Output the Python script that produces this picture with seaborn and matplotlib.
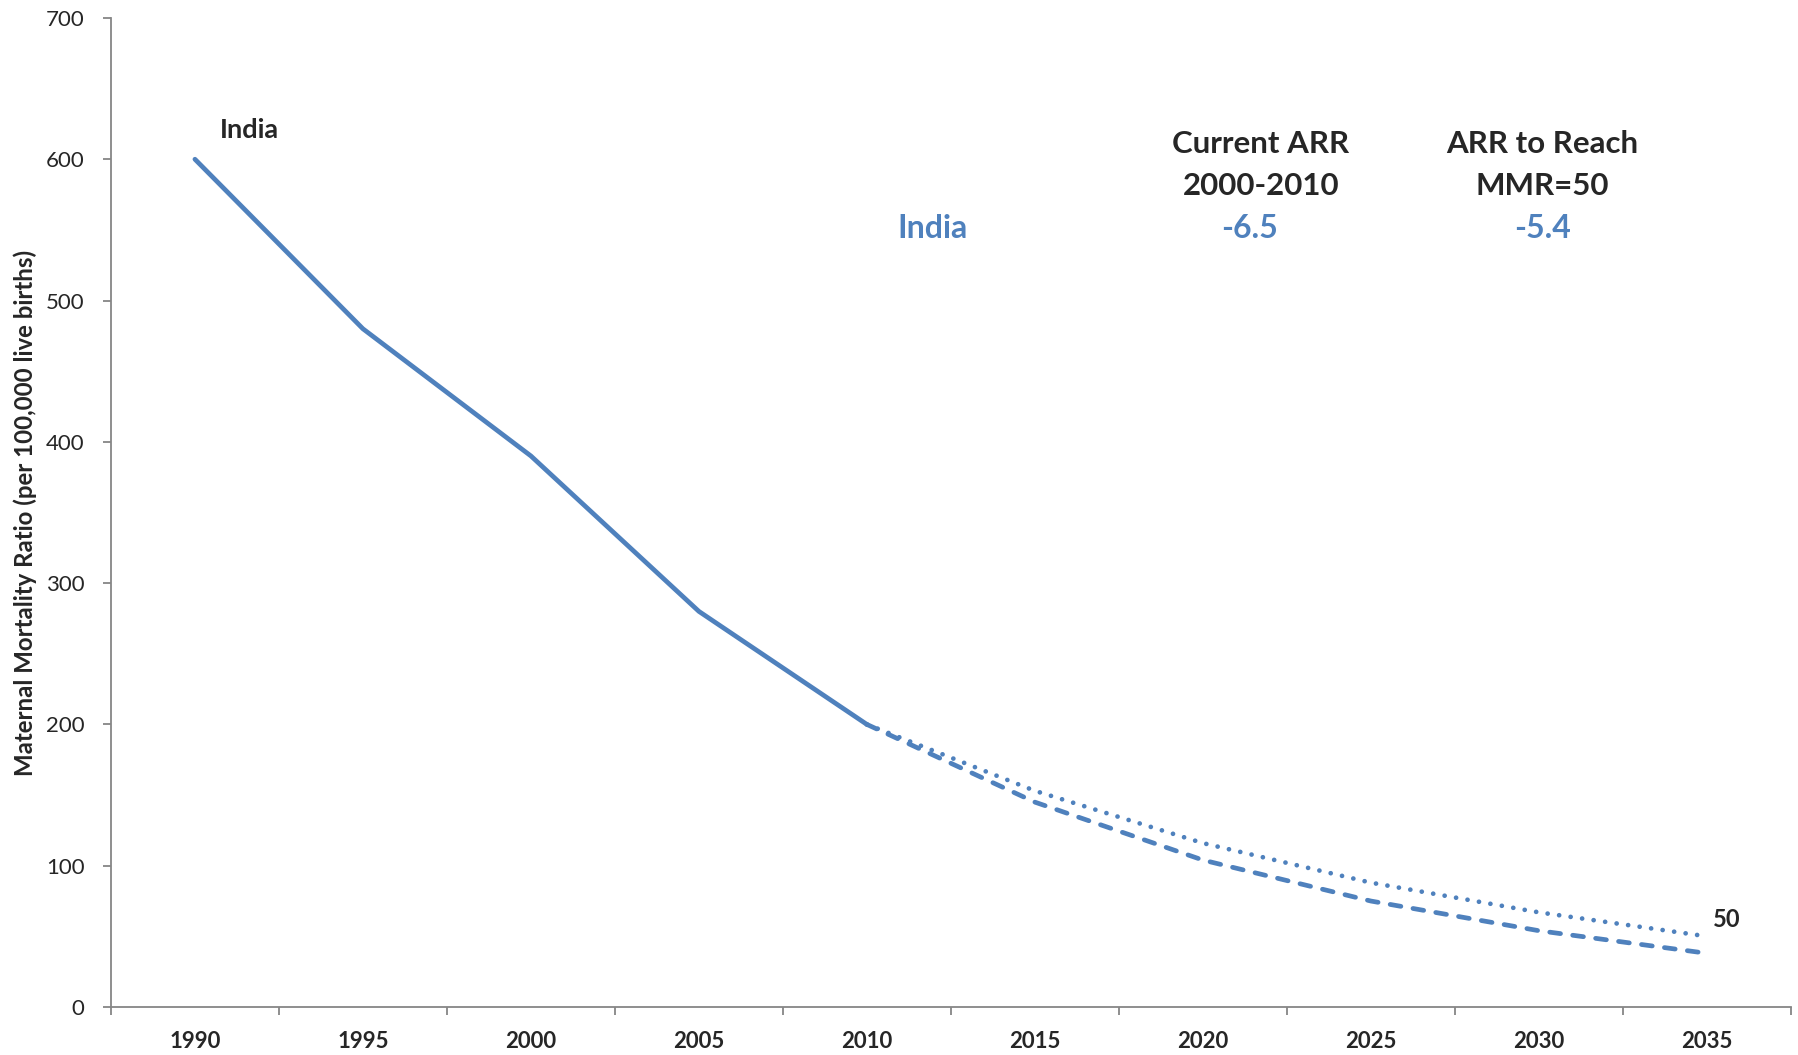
import matplotlib
matplotlib.use("Agg")
import matplotlib.pyplot as plt
import seaborn as sns
import pandas as pd
import numpy as np

# Data
years = ["1990", "1995", "2000", "2005", "2010", "2015", "2020", "2025", "2030", "2035"]
observed_years = ["1990", "1995", "2000", "2005", "2010"]
observed_mmr = [600, 480, 390, 280, 200]
proj_years = ["2010", "2015", "2020", "2025", "2030", "2035"]
current_arr_mmr = [200, 145, 104, 75, 54, 38]
target_arr_mmr = [200, 153, 116, 88, 67, 50]
yticks = [0, 100, 200, 300, 400, 500, 600, 700]

BLUE = "#4F81BD"
GREY = "#868686"

sns.set_theme(style="white")
plt.rcParams["font.family"] = ["Lato", "DejaVu Sans"]

fig = plt.figure(figsize=(17.98, 10.55), dpi=100)
ax = fig.add_axes([0.0617, 0.0455, 0.9343, 0.9375])

pos = {y: i for i, y in enumerate(years)}
obs = pd.DataFrame({"x": [pos[y] for y in observed_years], "mmr": observed_mmr})
cur = pd.DataFrame({"x": [pos[y] for y in proj_years], "mmr": current_arr_mmr})
tgt = pd.DataFrame({"x": [pos[y] for y in proj_years], "mmr": target_arr_mmr})

lw = 3.4
sns.lineplot(data=obs, x="x", y="mmr", ax=ax, color=BLUE, linewidth=lw,
             solid_capstyle="round", solid_joinstyle="round")
sns.lineplot(data=tgt, x="x", y="mmr", ax=ax, color=BLUE, linewidth=lw,
             linestyle=(0, (0.01, 2.45)), dash_capstyle="round")
sns.lineplot(data=cur, x="x", y="mmr", ax=ax, color=BLUE, linewidth=lw,
             linestyle=(0, (2.3, 2.6)), dash_capstyle="round")

ax.set_xlim(-0.5, len(years) - 0.5)
ax.set_ylim(0, 700)

# Category axis: labels at centres, ticks on boundaries
ax.set_xticks(range(len(years)))
ax.set_xticklabels(years, fontsize=16, fontweight="bold")
ax.set_xticks(np.arange(-0.5, len(years), 1.0), minor=True)
ax.tick_params(axis="x", which="major", length=0, pad=17)
ax.tick_params(axis="x", which="minor", length=6, width=1.3, color=GREY, direction="out", bottom=True)

ax.set_yticks(yticks)
ax.set_yticklabels([str(v) for v in yticks], fontsize=16)
ax.tick_params(axis="y", which="major", length=6, width=1.3, color=GREY, direction="out", left=True, pad=13)

for side in ["top", "right"]:
    ax.spines[side].set_visible(False)
for side in ["left", "bottom"]:
    ax.spines[side].set_color(GREY)
    ax.spines[side].set_linewidth(1.3)

ax.set_xlabel("")
ax.set_ylabel("Maternal Mortality Ratio (per 100,000 live births)", fontsize=17.3,
              fontweight="bold")
ax.yaxis.set_label_coords(-0.044, 0.5)

# Annotations
ax.text(0.15, 621, "India", fontsize=19.5, fontweight="bold", ha="left", va="center")
ax.text(9.12, 62, "50", fontsize=17, fontweight="bold", ha="center", va="center")

ax.text(6.345, 596, "Current ARR\n2000-2010", fontsize=22.5, fontweight="bold",
        ha="center", va="center", linespacing=1.6)
ax.text(8.02, 596, "ARR to Reach\nMMR=50", fontsize=22.5, fontweight="bold",
        ha="center", va="center", linespacing=1.6)
ax.text(4.39, 551, "India", fontsize=23, fontweight="bold", color=BLUE, ha="center", va="center")
ax.text(6.28, 551, "-6.5", fontsize=23, fontweight="bold", color=BLUE, ha="center", va="center")
ax.text(8.02, 551, "-5.4", fontsize=23, fontweight="bold", color=BLUE, ha="center", va="center")

fig.savefig("out.png", dpi=100, facecolor="white")
